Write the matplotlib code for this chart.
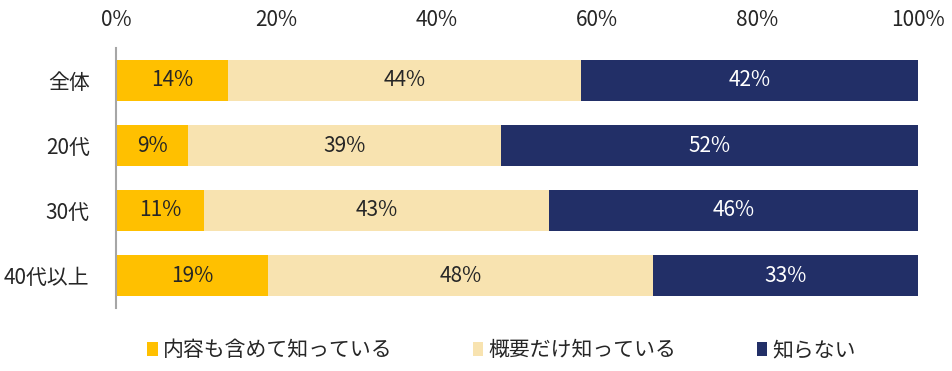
import matplotlib
matplotlib.use("Agg")
import matplotlib.pyplot as plt
import numpy as np

plt.rcParams['font.family'] = ['Noto Sans CJK JP', 'DejaVu Sans']

categories = ["全体", "20代", "30代", "40代以上"]
series_names = ["内容も含めて知っている", "概要だけ知っている", "知らない"]
know_detail = [14, 9, 11, 19]
know_outline = [44, 39, 43, 48]
not_know = [42, 52, 46, 33]
colors = ["#FFC000", "#F8E3B0", "#222F67"]
label_colors = ["#262626", "#262626", "#FFFFFF"]
xticks = [0, 20, 40, 60, 80, 100]

FS = 15

fig = plt.figure(figsize=(9.52, 3.71), dpi=100)
ax = fig.add_axes([116/952, 1-308/371, (918-116)/952, 260/371])

y = np.arange(len(categories))
left = np.zeros(len(categories))
for vals, col, lc, name in zip([know_detail, know_outline, not_know], colors, label_colors, series_names):
    vals = np.array(vals, dtype=float)
    ax.barh(y, vals, left=left, height=0.646, color=col, label=name)
    for yi, l, v in zip(y, left, vals):
        ax.text(l + v/2, yi, f"{int(v)}%", ha="center", va="center", color=lc, fontsize=FS)
    left += vals

ax.set_xlim(0, 100)
ax.set_ylim(3.5, -0.5)
ax.set_yticks(y)
ax.set_yticklabels(categories, fontsize=FS, color="#262626")
ax.set_xticks(xticks)
ax.set_xticklabels([f"{t}%" for t in xticks], fontsize=FS, color="#262626")
ax.xaxis.tick_top()
ax.tick_params(axis="both", length=0)
ax.tick_params(axis="x", pad=12)
ax.tick_params(axis="y", pad=19)
for s in ["top", "right", "bottom"]:
    ax.spines[s].set_visible(False)
ax.spines["left"].set_color("#A6A6A6")
ax.spines["left"].set_linewidth(1.5)

leg = fig.legend(loc="center", bbox_to_anchor=(501.5/952, 1-350/371), ncol=3, frameon=False,
                 fontsize=FS, handlelength=0.5, handleheight=0.65, handletextpad=0.25,
                 columnspacing=3.85)
for t in leg.get_texts():
    t.set_color("#262626")

fig.savefig("out.png", dpi=100)
